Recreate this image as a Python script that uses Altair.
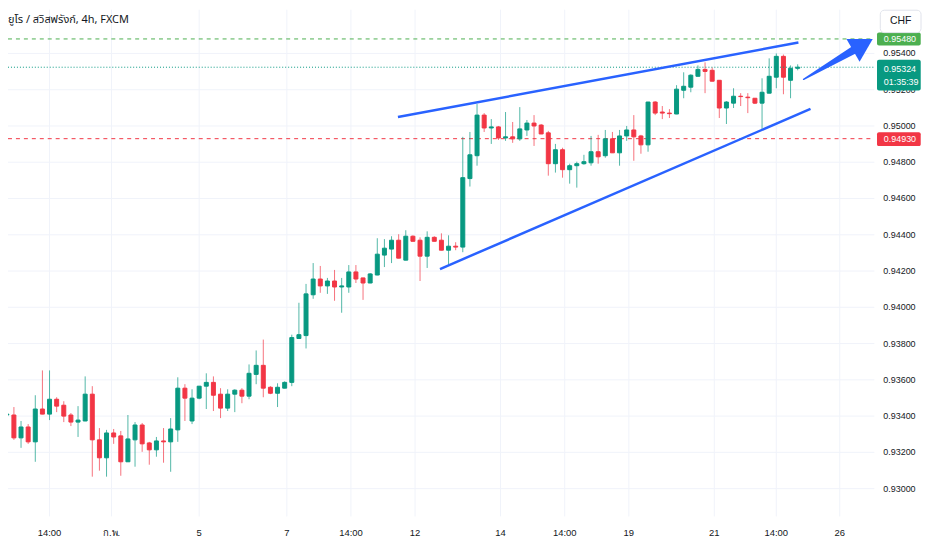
import altair as alt
import pandas as pd

# ---------------- data (EUR/CHF 4h) ----------------
opens = [0.93406, 0.93406, 0.93280, 0.93340, 0.93258, 0.93439, 0.93411, 0.93493, 0.93460, 0.93406,
         0.93367, 0.93373, 0.93521, 0.93269, 0.93170, 0.93307, 0.93291, 0.93148, 0.93269, 0.93351,
         0.93252, 0.93214, 0.93263, 0.93258, 0.93324, 0.93554, 0.93373, 0.93499, 0.93565, 0.93586,
         0.93521, 0.93444, 0.93521, 0.93543, 0.93510, 0.93630, 0.93680, 0.93559, 0.93526, 0.93554,
         0.93586, 0.93828, 0.93844, 0.94069, 0.94156, 0.94118, 0.94145, 0.94112, 0.94112, 0.94195,
         0.94162, 0.94134, 0.94178, 0.94288, 0.94321, 0.94370, 0.94260, 0.94392, 0.94370, 0.94282,
         0.94386, 0.94370, 0.94315, 0.94337, 0.94332, 0.94710, 0.94836, 0.95060, 0.94989, 0.94995,
         0.94934, 0.94940, 0.94929, 0.94978, 0.95016, 0.95005, 0.94962, 0.94792, 0.94869, 0.94759,
         0.94781, 0.94792, 0.94797, 0.94858, 0.94836, 0.94929, 0.94852, 0.94945, 0.94978, 0.94945,
         0.94896, 0.95132, 0.95077, 0.95071, 0.95066, 0.95197, 0.95214, 0.95274, 0.95312, 0.95307,
         0.95252, 0.95099, 0.95126, 0.95164, 0.95159, 0.95153, 0.95126, 0.95181, 0.95269, 0.95384,
         0.95252, 0.95318]
highs = [0.93466, 0.93450, 0.93373, 0.93356, 0.93515, 0.93652, 0.93652, 0.93504, 0.93482, 0.93417,
         0.93455, 0.93619, 0.93565, 0.93334, 0.93324, 0.93329, 0.93318, 0.93406, 0.93367, 0.93362,
         0.93258, 0.93285, 0.93334, 0.93389, 0.93614, 0.93576, 0.93548, 0.93566, 0.93636, 0.93619,
         0.93554, 0.93548, 0.93548, 0.93554, 0.93685, 0.93762, 0.93822, 0.93565, 0.93581, 0.93592,
         0.93849, 0.94025, 0.94129, 0.94244, 0.94228, 0.94162, 0.94206, 0.94162, 0.94233, 0.94233,
         0.94163, 0.94189, 0.94381, 0.94376, 0.94392, 0.94403, 0.94425, 0.94397, 0.94386, 0.94419,
         0.94392, 0.94408, 0.94397, 0.94359, 0.94940, 0.94967, 0.95121, 0.95071, 0.95038, 0.95000,
         0.95077, 0.95022, 0.95104, 0.95033, 0.95060, 0.95011, 0.94973, 0.94901, 0.94880, 0.94792,
         0.94803, 0.94841, 0.94945, 0.94951, 0.94978, 0.94967, 0.94978, 0.95000, 0.95060, 0.94951,
         0.95133, 0.95137, 0.95110, 0.95093, 0.95225, 0.95296, 0.95285, 0.95334, 0.95351, 0.95323,
         0.95253, 0.95137, 0.95208, 0.95181, 0.95181, 0.95154, 0.95263, 0.95373, 0.95400, 0.95394,
         0.95334, 0.95340]
lows = [0.93258, 0.93269, 0.93225, 0.93247, 0.93148, 0.93410, 0.93378, 0.93422, 0.93367, 0.93345,
        0.93285, 0.93372, 0.93066, 0.93099, 0.93066, 0.93247, 0.93071, 0.93147, 0.93121, 0.93203,
        0.93132, 0.93176, 0.93143, 0.93093, 0.93258, 0.93373, 0.93356, 0.93493, 0.93439, 0.93428,
        0.93389, 0.93428, 0.93422, 0.93471, 0.93493, 0.93576, 0.93504, 0.93521, 0.93450, 0.93553,
        0.93565, 0.93827, 0.93773, 0.94047, 0.94080, 0.94074, 0.94036, 0.93970, 0.94080, 0.94134,
        0.94041, 0.94133, 0.94177, 0.94222, 0.94244, 0.94270, 0.94259, 0.94363, 0.94145, 0.94217,
        0.94363, 0.94314, 0.94233, 0.94315, 0.94304, 0.94666, 0.94781, 0.94967, 0.94901, 0.94923,
        0.94918, 0.94907, 0.94918, 0.94945, 0.94890, 0.94955, 0.94726, 0.94743, 0.94715, 0.94682,
        0.94660, 0.94786, 0.94781, 0.94792, 0.94825, 0.94851, 0.94781, 0.94918, 0.94808, 0.94847,
        0.94858, 0.95060, 0.95038, 0.95044, 0.95065, 0.95153, 0.95186, 0.95273, 0.95181, 0.95246,
        0.95044, 0.95011, 0.95099, 0.95110, 0.95071, 0.95121, 0.94978, 0.95180, 0.95208, 0.95175,
        0.95153, 0.95307]
closes = [0.93411, 0.93280, 0.93340, 0.93258, 0.93439, 0.93411, 0.93493, 0.93455, 0.93400, 0.93367,
          0.93378, 0.93521, 0.93269, 0.93170, 0.93307, 0.93285, 0.93148, 0.93274, 0.93351, 0.93247,
          0.93214, 0.93263, 0.93258, 0.93329, 0.93554, 0.93499, 0.93499, 0.93565, 0.93586, 0.93515,
          0.93444, 0.93521, 0.93543, 0.93510, 0.93636, 0.93680, 0.93554, 0.93526, 0.93559, 0.93586,
          0.93833, 0.93849, 0.94074, 0.94156, 0.94118, 0.94145, 0.94112, 0.94118, 0.94195, 0.94156,
          0.94134, 0.94184, 0.94293, 0.94326, 0.94370, 0.94271, 0.94392, 0.94364, 0.94282, 0.94386,
          0.94364, 0.94315, 0.94337, 0.94332, 0.94715, 0.94841, 0.95060, 0.94989, 0.94995, 0.94934,
          0.94940, 0.94929, 0.94984, 0.95016, 0.95000, 0.94956, 0.94792, 0.94869, 0.94759, 0.94781,
          0.94792, 0.94803, 0.94858, 0.94830, 0.94929, 0.94852, 0.94945, 0.94978, 0.94940, 0.94896,
          0.95132, 0.95071, 0.95071, 0.95068, 0.95203, 0.95219, 0.95280, 0.95312, 0.95301, 0.95247,
          0.95099, 0.95132, 0.95164, 0.95162, 0.95156, 0.95126, 0.95186, 0.95274, 0.95384, 0.95269,
          0.95318, 0.95324]

# time-axis labels (positions in candle index units)
tick_pos = [6, 14.7, 27, 39.3, 48.3, 57.3, 69.3, 78.3, 87.3, 99.3, 108, 116.9]
tick_labels = ["14:00", "ก.พ.", "5", "7", "14:00", "12", "14", "14:00", "19", "21", "14:00", "26"]

# price-axis levels
price_levels = [0.930, 0.932, 0.934, 0.936, 0.938, 0.940, 0.942, 0.944, 0.946, 0.948, 0.950, 0.952, 0.954]

# horizontal levels
alert_level = [0.9548]       # green dashed
last_price = [0.95324]       # dotted current price
support_level = [0.9493]     # red dashed
countdown = ["01:35:39"]

# trend lines (drawing anchors: candle index, price)
tl_name = ["upper", "upper", "lower", "lower"]
tl_idx = [54.9, 111.1, 60.8, 112.8]
tl_price = [0.950493, 0.954603, 0.942110, 0.950943]

# arrow annotation
arrow_idx = [111.83, 118.79]
arrow_price = [0.952575, 0.954170]
arrow_width = [1.5, 8.0]
head_idx = [120.15]
head_price = [0.954488]

title_text = "ยูโร / สวิสฟรังก์, 4h, FXCM"
currency = ["CHF"]

# ---------------- chart ----------------
W, H = 872, 510
UP, DOWN = "#089981", "#f23645"
BLUE = "#2962ff"
TXT = "#131722"
GRID = "#f0f3fa"
FONT = "Liberation Sans, sans-serif"
FS = 9
TFONT = "Noto Sans Thai, Noto Sans, Liberation Sans, DejaVu Sans, sans-serif"

xs = alt.Scale(domain=[0.868, 121.06], nice=False, zero=False)
ys = alt.Scale(domain=[0.928468, 0.956411], nice=False, zero=False)
cs = alt.Scale(domain=["up", "down"], range=[UP, DOWN])

candles = pd.DataFrame({"i": list(range(len(opens))), "open": opens, "high": highs,
                        "low": lows, "close": closes})
candles["dir"] = ["up" if c >= o else "down" for o, c in zip(opens, closes)]

X = lambda f: alt.X(f, type="quantitative", scale=xs, axis=None)
Y = lambda f: alt.Y(f, type="quantitative", scale=ys, axis=None)

hgrid = alt.Chart(pd.DataFrame({"p": price_levels})).mark_rule(color=GRID, strokeWidth=1).encode(
    y=Y("p"), x=alt.value(0), x2=alt.value(W))

ticks = pd.DataFrame({"pos": tick_pos, "lab": tick_labels})
vgrid = alt.Chart(ticks).mark_rule(color=GRID, strokeWidth=1).encode(
    x=X("pos"), y=alt.value(0), y2=alt.value(H))
xlabels = alt.Chart(ticks).mark_text(font=FONT, fontSize=9.5, color=TXT, align="center",
                                     baseline="middle").encode(
    x=X("pos"), y=alt.value(527), text="lab:N")

plabels = alt.Chart(pd.DataFrame({"p": price_levels,
                                  "lab": [f"{v:.5f}" for v in price_levels]})).mark_text(
    font=FONT, fontSize=FS, color=TXT, align="left", baseline="middle").encode(
    y=Y("p"), x=alt.value(881), text="lab:N")

wicks = alt.Chart(candles).mark_rule(strokeWidth=1, opacity=0.7, clip=True).encode(
    x=X("i"), y=Y("low"), y2="high:Q",
    color=alt.Color("dir:N", scale=cs, legend=None))
bodies = alt.Chart(candles).mark_bar(width=4, strokeWidth=1, clip=True).encode(
    x=X("i"), y=Y("open"), y2="close:Q",
    color=alt.Color("dir:N", scale=cs, legend=None),
    stroke=alt.Stroke("dir:N", scale=cs, legend=None))

def hline(vals, color, dash):
    return alt.Chart(pd.DataFrame({"p": vals})).mark_rule(
        color=color, strokeWidth=1, strokeDash=dash).encode(
        y=Y("p"), x=alt.value(0), x2=alt.value(W))

lvl_alert = hline(alert_level, "#4caf50", [4, 4])
lvl_last = hline(last_price, UP, [1, 2])
lvl_sup = hline(support_level, DOWN, [4, 4])

tl = pd.DataFrame({"name": tl_name, "i": tl_idx, "p": tl_price})
trend = alt.Chart(tl).mark_line(color=BLUE, strokeWidth=2.5).encode(
    x=X("i"), y=Y("p"), detail="name:N")

arrow = alt.Chart(pd.DataFrame({"i": arrow_idx, "p": arrow_price, "w": arrow_width})).mark_trail(
    color=BLUE).encode(x=X("i"), y=Y("p"), size=alt.Size("w:Q", scale=None, legend=None))
head = alt.Chart(pd.DataFrame({"i": head_idx, "p": head_price})).mark_point(
    shape="triangle-up", filled=True, size=700, angle=60, color=BLUE, opacity=1).encode(
    x=X("i"), y=Y("p"))

def pbox(vals, color, top, bottom):
    df = pd.DataFrame({"p": vals, "lab": [f"{v:.5f}" for v in vals]})
    rect = alt.Chart(df).mark_rect(color=color, cornerRadius=2, yOffset=-top, y2Offset=bottom).encode(
        y=Y("p"), y2="p:Q", x=alt.value(874.7), x2=alt.value(918.7))
    txt = alt.Chart(df).mark_text(font=FONT, fontSize=FS, color="white", align="left",
                                  baseline="middle", dy=0.5).encode(
        y=Y("p"), x=alt.value(881.5), text="lab:N")
    return rect + txt

box_alert = pbox(alert_level, "#4caf50", 6.5, 6.5)
box_sup = pbox(support_level, DOWN, 6.5, 7.5)
last_df = pd.DataFrame({"p": last_price, "lab": [f"{v:.5f}" for v in last_price], "cd": countdown})
box_last_rect = alt.Chart(last_df).mark_rect(color=UP, cornerRadius=2, yOffset=-7.5, y2Offset=23.5).encode(
    y=Y("p"), y2="p:Q", x=alt.value(874.7), x2=alt.value(918.7))
box_last_t1 = alt.Chart(last_df).mark_text(font=FONT, fontSize=FS, color="white", align="left",
                                          baseline="middle", dy=1.5).encode(
    y=Y("p"), x=alt.value(881.5), text="lab:N")
box_last_t2 = alt.Chart(last_df).mark_text(font=FONT, fontSize=FS, color="white", align="left",
                                          baseline="middle", dy=14.5).encode(
    y=Y("p"), x=alt.value(881.5), text="cd:N")

cur_df = pd.DataFrame({"t": currency})
cur_box = alt.Chart(cur_df).mark_rect(fill="white", stroke="#e0e3eb", strokeWidth=1, cornerRadius=4).encode(
    x=alt.value(878), x2=alt.value(919), y=alt.value(0.5), y2=alt.value(23))
cur_txt = alt.Chart(cur_df).mark_text(font=FONT, fontSize=10.5, color=TXT, align="center",
                                      baseline="middle").encode(
    x=alt.value(898.5), y=alt.value(11.5), text="t:N")

title = alt.Chart(pd.DataFrame({"t": [title_text]})).mark_text(
    font=TFONT, fontSize=11, color=TXT, align="left", baseline="middle").encode(
    x=alt.value(0), y=alt.value(10), text="t:N")

chart = alt.layer(
    hgrid, vgrid, lvl_alert, lvl_sup, wicks, bodies, lvl_last, trend, arrow, head,
    plabels, xlabels, box_alert, box_last_rect, box_last_t1, box_last_t2, box_sup,
    cur_box, cur_txt, title
).properties(
    width=W, height=H,
    autosize=alt.AutoSizeParams(type="none"),
    padding={"left": 0, "top": 0, "right": 50, "bottom": 22},
    background="white"
).configure_view(stroke=None)

chart.save("out.html", embed_options={"renderer": "svg", "actions": False})
